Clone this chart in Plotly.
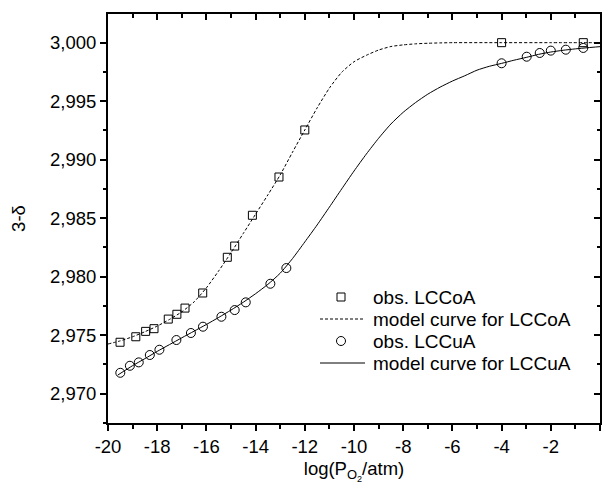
import plotly.graph_objects as go

# Observed data: LCCoA
coa_logp = [-19.51, -18.87, -18.47, -18.13, -17.55, -17.20, -16.87, -16.15,
            -15.15, -14.85, -14.13, -13.05, -12.00, -4.00, -0.68]
coa_obs = [2.97440, 2.97487, 2.97533, 2.97556, 2.97638, 2.97679, 2.97732, 2.97861,
           2.98166, 2.98262, 2.98525, 2.98852, 2.99254, 3.00000, 3.00000]

# Observed data: LCCuA
cua_logp = [-19.50, -19.11, -18.75, -18.30, -17.91, -17.22, -16.63, -16.14,
            -15.39, -14.85, -14.40, -13.40, -12.75,
            -4.00, -2.98, -2.45, -2.00, -1.39, -0.68]
cua_obs = [2.97179, 2.97239, 2.97268, 2.97331, 2.97376, 2.97459, 2.97519, 2.97573,
           2.97658, 2.97715, 2.97781, 2.97940, 2.98074,
           2.99824, 2.99880, 2.99912, 2.99932, 2.99940, 2.99955]

# Model curve for LCCoA (sampled)
coa_model_logp = [-20, -19.5, -19, -18.5, -18, -17.5, -17, -16.5, -16, -15.5, -15,
                  -14.5, -14, -13.5, -13, -12.5, -12, -11.5, -11, -10.5, -10, -9.5,
                  -9, -8.5, -8, -7.5, -7, -6.5, -6, -4, -2, 0]
coa_model = [2.97425, 2.97452, 2.97487, 2.97530, 2.97578, 2.97635, 2.97700, 2.97785,
             2.97905, 2.98050, 2.98205, 2.98370, 2.98535, 2.98700, 2.98870, 2.99064,
             2.99254, 2.99442, 2.99612, 2.99747, 2.99837, 2.99892, 2.99937, 2.99967,
             2.99981, 2.99990, 2.99995, 2.99998, 3.00000, 3.00000, 3.00000, 3.00000]

# Model curve for LCCuA (sampled)
cua_model_logp = [-19.6, -19, -18.5, -18, -17.5, -17, -16.5, -16, -15.5, -15, -14.5,
                  -14, -13.5, -13, -12.5, -12, -11.5, -11, -10.5, -10, -9.5, -9,
                  -8.5, -8, -7.5, -7, -6.5, -6, -5.5, -5, -4.5, -4, -3.5, -3, -2.5,
                  -2, -1.5, -1, -0.5, 0]
cua_model = [2.97160, 2.97240, 2.97300, 2.97362, 2.97420, 2.97478, 2.97535, 2.97592,
             2.97652, 2.97715, 2.97782, 2.97855, 2.97935, 2.98030, 2.98155, 2.98297,
             2.98442, 2.98595, 2.98750, 2.98903, 2.99048, 2.99183, 2.99305, 2.99405,
             2.99488, 2.99560, 2.99620, 2.99672, 2.99717, 2.99765, 2.99798, 2.99823,
             2.99850, 2.99874, 2.99900, 2.99920, 2.99935, 2.99947, 2.99957, 2.99966]

x_ticks = [-20, -18, -16, -14, -12, -10, -8, -6, -4, -2, 0]
x_ticktext = ["-20", "-18", "-16", "-14", "-12", "-10", "-8", "-6", "-4", "-2", "0"]
y_ticks = [2.970, 2.975, 2.980, 2.985, 2.990, 2.995, 3.000]

legend_labels = ["obs. LCCoA", "model curve for LCCoA", "obs. LCCuA", "model curve for LCCuA"]

x_range = [-20, 0]
y_range = [2.9675, 3.00245]

FONT = "Liberation Sans, Arial, sans-serif"
INK = "black"
DASH = "3px,2px"

W, H = 605, 491
ML, MR, MT, MB = 108, 5, 14, 68
PW, PH = W - ML - MR, H - MT - MB


def px_to_paper(px, py):
    return (px - ML) / PW, (H - MB - py) / PH


fig = go.Figure()

fig.add_trace(go.Scatter(
    x=coa_logp, y=coa_obs, mode="markers", name=legend_labels[0],
    marker=dict(symbol="square-open", size=8, color=INK, line=dict(width=1)),
))
fig.add_trace(go.Scatter(
    x=coa_model_logp, y=coa_model, mode="lines", name=legend_labels[1],
    line=dict(color=INK, width=1, dash=DASH, shape="spline", smoothing=0.6),
))
fig.add_trace(go.Scatter(
    x=cua_logp, y=cua_obs, mode="markers", name=legend_labels[2],
    marker=dict(symbol="circle-open", size=9, color=INK, line=dict(width=1)),
))
fig.add_trace(go.Scatter(
    x=cua_model_logp, y=cua_model, mode="lines", name=legend_labels[3],
    line=dict(color=INK, width=1, shape="spline", smoothing=0.6),
))

# Empty traces so the mirrored top/right axes get drawn
fig.add_trace(go.Scatter(x=[None], y=[None], xaxis="x2", yaxis="y", showlegend=False,
                         hoverinfo="skip"))
fig.add_trace(go.Scatter(x=[None], y=[None], xaxis="x", yaxis="y2", showlegend=False,
                         hoverinfo="skip"))

# Hand-built legend: symbol column, line samples and labels
row_y = [297, 319, 341, 363]
sym_x = 341
line_x0, line_x1 = 320, 365
text_x = 371

shapes = []
annotations = []
for i, label in enumerate(legend_labels):
    sx, sy = px_to_paper(sym_x, row_y[i])
    if i == 0:
        shapes.append(dict(type="rect", xref="paper", yref="paper",
                           xsizemode="pixel", ysizemode="pixel", xanchor=sx, yanchor=sy,
                           x0=-4, x1=4, y0=-4, y1=4, line=dict(color=INK, width=1)))
    elif i == 2:
        shapes.append(dict(type="circle", xref="paper", yref="paper",
                           xsizemode="pixel", ysizemode="pixel", xanchor=sx, yanchor=sy,
                           x0=-4.5, x1=4.5, y0=-4.5, y1=4.5, line=dict(color=INK, width=1)))
    else:
        lx0, ly = px_to_paper(line_x0, row_y[i])
        lx1, _ = px_to_paper(line_x1, row_y[i])
        shapes.append(dict(type="line", xref="paper", yref="paper",
                           x0=lx0, x1=lx1, y0=ly, y1=ly,
                           line=dict(color=INK, width=1, dash=DASH if i == 1 else "solid")))
    tx, ty = px_to_paper(text_x, row_y[i])
    annotations.append(dict(text=label, x=tx, y=ty, xref="paper", yref="paper",
                            xanchor="left", yanchor="middle", showarrow=False,
                            font=dict(size=19, color=INK, family=FONT)))

axis_common = dict(showgrid=False, zeroline=False, showline=True, linecolor=INK,
                   linewidth=2, tickcolor=INK, tickwidth=1.5, ticklen=6)

fig.update_layout(
    width=W, height=H,
    margin=dict(l=ML, r=MR, t=MT, b=MB),
    paper_bgcolor="white", plot_bgcolor="white",
    separators=",.",
    font=dict(family=FONT, size=18.5, color=INK),
    showlegend=False,
    shapes=shapes,
    annotations=annotations,
    xaxis=dict(range=x_range, tickvals=x_ticks, ticktext=x_ticktext, ticks="outside",
               minor=dict(dtick=1, ticklen=3.5, ticks="outside", tickcolor=INK, tickwidth=1.5),
               title=dict(text="log(P<sub>O<sub>2</sub></sub>/atm)", standoff=6,
                          font=dict(size=18.5)),
               **axis_common),
    yaxis=dict(range=y_range, tickvals=y_ticks, tickformat=".3f", ticks="outside",
               minor=dict(dtick=0.0025, ticklen=3.5, ticks="outside", tickcolor=INK, tickwidth=1.5),
               title=dict(text="3-δ", standoff=20, font=dict(size=18.5)),
               **axis_common),
    xaxis2=dict(range=x_range, overlaying="x", side="top", anchor="y", tickvals=x_ticks,
                showticklabels=False, ticks="inside",
                minor=dict(dtick=1, ticklen=3.5, ticks="inside", tickcolor=INK, tickwidth=1.5),
                **axis_common),
    yaxis2=dict(range=y_range, overlaying="y", side="right", anchor="x", tickvals=y_ticks,
                showticklabels=False, ticks="inside",
                minor=dict(dtick=0.0025, ticklen=3.5, ticks="inside", tickcolor=INK, tickwidth=1.5),
                **axis_common),
)

fig.write_html("out.html")
